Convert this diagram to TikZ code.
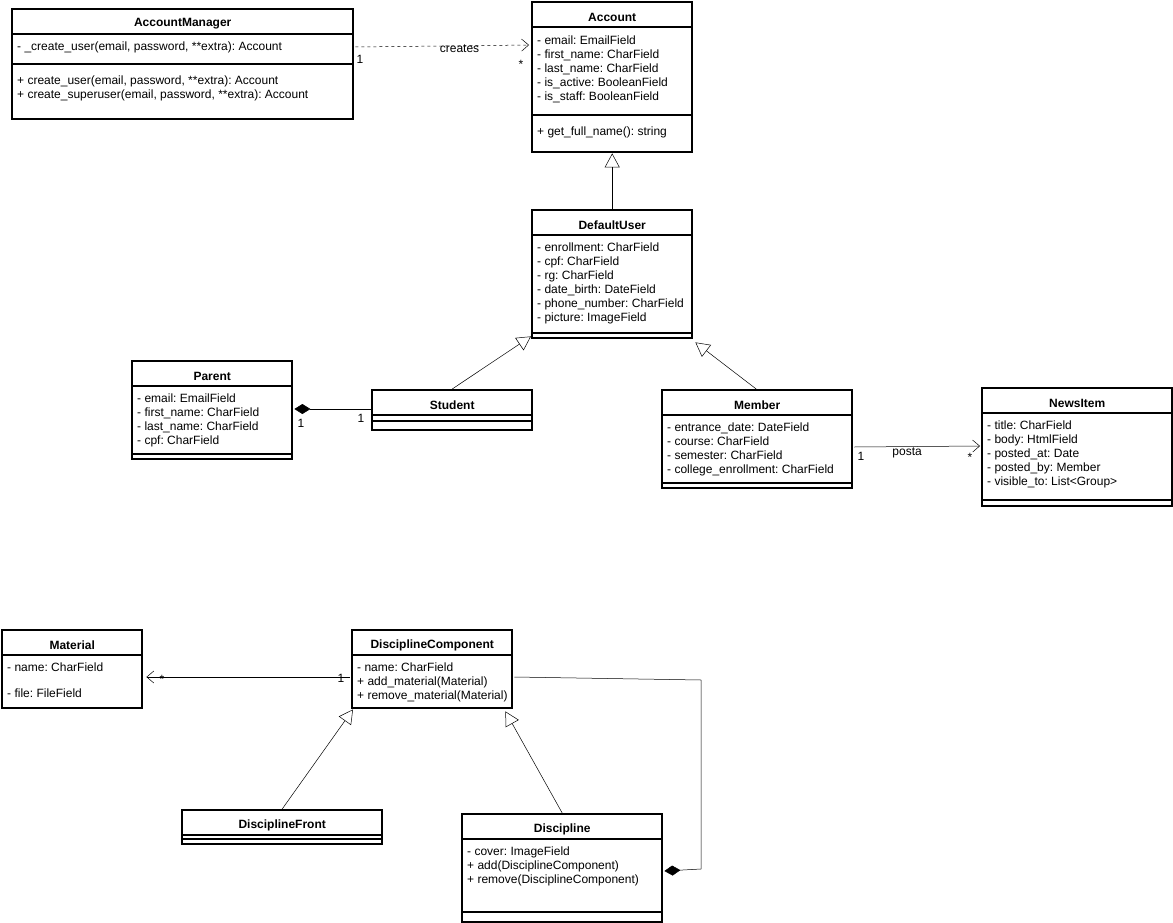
\documentclass[tikz,border=0pt]{standalone}
\usepackage{fontspec}
\setmainfont{Liberation Sans}
\frenchspacing
\usetikzlibrary{calc,arrows.meta}
\tikzset{
  classbox/.style={draw,line width=2.4pt,inner sep=0pt,anchor=north west},
  classtitle/.style={font=\fontsize{12}{13}\selectfont\bfseries},
  members/.style={font=\fontsize{12}{14}\selectfont,align=left,anchor=north west,inner sep=0pt},
  rule/.style={line width=1.6pt},
  assoc/.style={line width=0.5pt,-{Straight Barb[length=7pt,width=12pt]}},
  inherit/.style={line width=0.5pt,-{Triangle[open,length=14pt,width=15pt]}},
  compose/.style={line width=0.5pt,{Diamond[length=16pt,width=10pt]}-},
  mult/.style={font=\fontsize{12}{13}\selectfont,inner sep=1pt}
}
% name, left, top, width, height, title, separator offset
\newcommand\umlclass[7]{%
  \node[classbox,minimum width=#4pt,minimum height=#5pt] (#1) at (#2,-#3) {};
  \node[classtitle] (#1-title) at ($(#1.north)+(0,-16)$) {#6};
  \draw[rule] ($(#1.north west)+(0,-26)$) -- ($(#1.north east)+(0,-26)$);
  \draw[rule] ($(#1.north west)+(0,-#7)$) -- ($(#1.north east)+(0,-#7)$);
}
\begin{document}
\begin{tikzpicture}[x=1pt,y=1pt]
  \useasboundingbox (0,0) rectangle (1173,-923);

  \umlclass{manager}{11}{8}{341}{110}{AccountManager}{56}
  \node[members] (manager-attr) at (17,-42) {- \_create\_user(email, password, **extra): Account};
  \node[members] (manager-ops) at (17,-76) {+ create\_user(email, password, **extra): Account\\+ create\_superuser(email, password, **extra): Account};

  \umlclass{account}{531}{1}{160}{150}{Account}{114}
  \node[members] (account-attr) at (537,-36) {- email: EmailField\\- first\_name: CharField\\- last\_name: CharField\\- is\_active: BooleanField\\- is\_staff: BooleanField};
  \node[members] (account-ops) at (537,-127) {+ get\_full\_name(): string};

  \umlclass{user}{531}{209}{160}{128}{DefaultUser}{124}
  \node[members] (user-attr) at (537,-243) {- enrollment: CharField\\- cpf: CharField\\- rg: CharField\\- date\_birth: DateField\\- phone\_number: CharField\\- picture: ImageField};

  \umlclass{parent}{131}{360}{160}{98}{Parent}{94}
  \node[members] (parent-attr) at (137,-394) {- email: EmailField\\- first\_name: CharField\\- last\_name: CharField\\- cpf: CharField};

  \umlclass{student}{371}{389}{160}{40}{Student}{32}

  \umlclass{member}{661}{389}{190}{98}{Member}{94}
  \node[members] (member-attr) at (667,-423) {- entrance\_date: DateField\\- course: CharField\\- semester: CharField\\- college\_enrollment: CharField};

  \umlclass{news}{981}{387}{190}{118}{NewsItem}{113}
  \node[members] (news-attr) at (987,-421) {- title: CharField\\- body: HtmlField\\- posted\_at: Date\\- posted\_by: Member\\- visible\_to: List<Group>};

  \node[classbox,minimum width=140pt,minimum height=78pt] (material) at (1,-629) {};
  \node[classtitle] at ($(material.north)+(0,-16)$) {Material};
  \draw[rule] ($(material.north west)+(0,-26)$) -- ($(material.north east)+(0,-26)$);
  \node[members] (material-attr) at (7,-663) {- name: CharField\\[12pt]- file: FileField};

  \umlclass{component}{351}{629}{160}{78}{DisciplineComponent}{26}
  \node[members] (component-attr) at (357,-663) {- name: CharField\\+ add\_material(Material)\\+ remove\_material(Material)};

  \umlclass{front}{181}{809}{200}{34}{DisciplineFront}{30}

  \umlclass{discipline}{461}{813}{200}{108}{Discipline}{99}
  \node[members] (discipline-attr) at (467,-847) {- cover: ImageField\\+ add(DisciplineComponent)\\+ remove(DisciplineComponent)};

  % relations
  \draw[assoc,dashed] ($(manager.north east)+(1,-39)$) -- node[mult,pos=0.6,below=-2pt] {creates} ($(account.north west)+(-2,-44)$);
  \node[mult] at (360,-59) {1};
  \node[mult] at (521,-64) {*};

  \draw[inherit] (user.north) -- (account.south);
  \draw[inherit] (student.north) -- ($(user.south west)+(0,3)$);
  \draw[inherit] ($(member.north)+(-1,0)$) -- ($(user.south east)+(2,-3)$);

  \draw[compose] ($(parent.north east)+(1,-49)$) -- ($(student.north west)+(0,-20)$);
  \node[mult] at (301,-423) {1};
  \node[mult] at (361,-418) {1};

  \draw[assoc] ($(member.north east)+(1,-58)$) -- node[mult,pos=0.42,below=0pt] {posta} ($(news.north west)+(-1,-59)$);
  \node[mult] at (861,-456) {1};
  \node[mult] at (970,-457) {*};

  \draw[assoc] ($(component.north west)+(-1,-48)$) -- ($(material.north east)+(3,-48)$);
  \node[mult] at (341,-678) {1};
  \node[mult] at (162,-679) {*};

  \draw[inherit] (front.north) -- ($(component.south west)+(2,0)$);
  \draw[inherit] (discipline.north) -- ($(component.south east)+(-8,-2)$);

  \coordinate (bend-top) at (701,-680);
  \coordinate (bend-bottom) at (701,-869);
  \draw[compose] ($(discipline.north east)+(1,-58)$) -- (bend-bottom) -- (bend-top) -- ($(component.north east)+(1,-48)$);
\end{tikzpicture}
\end{document}
